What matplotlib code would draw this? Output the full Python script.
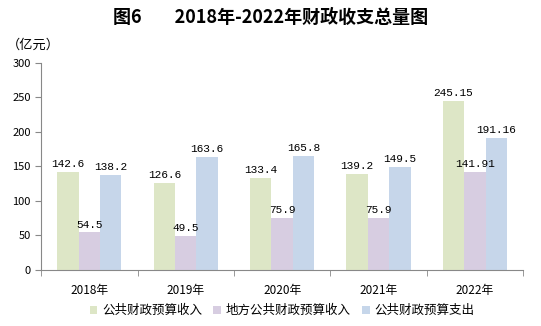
import numpy as np
import matplotlib.pyplot as plt

plt.rcParams['font.family'] = ['Noto Sans CJK SC', 'DejaVu Sans']

years = ["2018年", "2019年", "2020年", "2021年", "2022年"]
series_names = ["公共财政预算收入", "地方公共财政预算收入", "公共财政预算支出"]
revenue = [142.6, 126.6, 133.4, 139.2, 245.15]
local_revenue = [54.5, 49.5, 75.9, 75.9, 141.91]
expenditure = [138.2, 163.6, 165.8, 149.5, 191.16]
labels = [["142.6", "126.6", "133.4", "139.2", "245.15"],
          ["54.5", "49.5", "75.9", "75.9", "141.91"],
          ["138.2", "163.6", "165.8", "149.5", "191.16"]]
colors = ["#dde6c6", "#d7cde1", "#c6d6ea"]

fig = plt.figure(figsize=(5.41, 3.26), dpi=100)
ax = fig.add_axes([0.076, 0.172, 0.891, 0.635])

x = np.arange(len(years))
w = 0.222
for i, (vals, c) in enumerate(zip([revenue, local_revenue, expenditure], colors)):
    pos = x + (i - 1) * w
    ax.bar(pos, vals, w, color=c, label=series_names[i])
    for p, v, t in zip(pos, vals, labels[i]):
        ax.text(p, v + 4, t, ha="center", va="bottom", fontsize=8,
                family=["Liberation Mono", "DejaVu Sans Mono"])

ax.set_xlim(-0.5, len(years) - 0.5)
ax.set_ylim(0, 300)
ax.set_yticks(range(0, 301, 50))
ax.set_xticks(x)
ax.set_xticklabels(years, fontsize=8.5)
ax.set_xticks(np.arange(-0.5, len(years)), minor=True)
ax.tick_params(axis="x", which="major", length=0, pad=10)
ax.tick_params(axis="x", which="minor", length=4, color="#888888")
ax.tick_params(axis="y", length=4, color="#888888", labelsize=8)
for s in ["top", "right"]:
    ax.spines[s].set_visible(False)
for s in ["left", "bottom"]:
    ax.spines[s].set_color("#888888")

fig.text(0.5, 0.945, "图6        2018年-2022年财政收支总量图", ha="center", va="center",
         fontsize=13, fontweight="bold")
fig.text(0.012, 0.862, "（亿元）", ha="left", va="center", fontsize=9.5)

ax.legend(loc="upper center", bbox_to_anchor=(0.5, -0.11), ncol=3, frameon=False,
          fontsize=9, handlelength=0.6, handleheight=0.6, handletextpad=0.4,
          columnspacing=0.9)

fig.savefig("out.png", dpi=100)
